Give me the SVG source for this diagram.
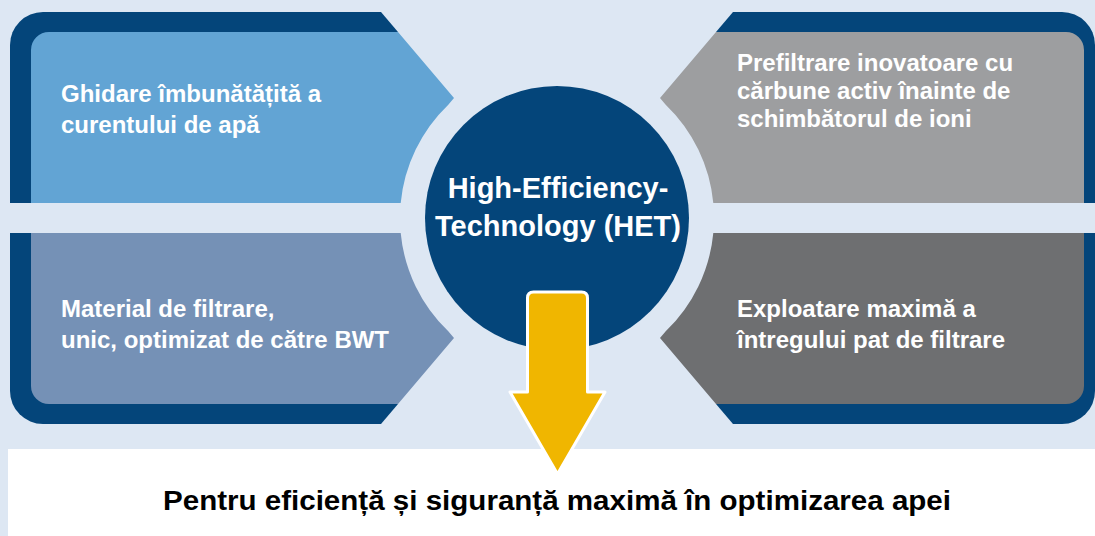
<svg xmlns="http://www.w3.org/2000/svg" width="1095" height="536" viewBox="0 0 1095 536">
<style>
.navy{fill:#04457a}
.ptxt{font-family:"Liberation Sans",Arial,sans-serif;font-weight:bold;font-size:24px;fill:#ffffff}
.ctxt{font-family:"Liberation Sans",Arial,sans-serif;font-weight:bold;font-size:29px;fill:#ffffff}
.btxt{font-family:"Liberation Sans Narrow","Liberation Sans",Arial,sans-serif;font-weight:bold;font-size:27px;fill:#000000}
</style>
<rect x="0" y="0" width="1095" height="536" fill="#dde7f3"/>
<rect x="8" y="449" width="1087" height="87" fill="#ffffff"/>

<g id="node-top-left">
<path class="navy" d="M10,203 V45 A33,33 0 0 1 43,12 H381 L398,32 V203 Z"/>
<path fill="#62a4d4" d="M31,50 A18,18 0 0 1 49,32 L398,32 L454,98 L448.3,104.7 A157,157 0 0 0 400.7,203 L31,203 Z"/>
<text class="ptxt" x="61" y="102">Ghidare îmbunătățită a</text>
<text class="ptxt" x="61" y="133">curentului de apă</text>
</g>

<g id="node-bottom-left">
<path class="navy" d="M10,233 V391 A33,33 0 0 0 43,424 H381 L398,404 V233 Z"/>
<path fill="#7591b6" d="M31,233 L400.7,233 A157,157 0 0 0 448.3,331.3 L454,338 L398,404 L49,404 A18,18 0 0 1 31,386 Z"/>
<text class="ptxt" x="61" y="317">Material de filtrare,</text>
<text class="ptxt" x="61" y="348">unic, optimizat de către BWT</text>
</g>

<g id="node-top-right">
<path class="navy" d="M1095,203 V45 A33,33 0 0 0 1062,12 H733 L716,32 V203 Z"/>
<path fill="#9d9ea0" d="M1084,50 A18,18 0 0 0 1066,32 L716,32 L660,98 L665.7,104.7 A157,157 0 0 1 713.3,203 L1084,203 Z"/>
<text class="ptxt" x="737" y="71">Prefiltrare inovatoare cu</text>
<text class="ptxt" x="737" y="99">cărbune activ înainte de</text>
<text class="ptxt" x="737" y="127">schimbătorul de ioni</text>
</g>

<g id="node-bottom-right">
<path class="navy" d="M1095,233 V391 A33,33 0 0 1 1062,424 H733 L716,404 V233 Z"/>
<path fill="#6e6f71" d="M1084,233 L713.3,233 A157,157 0 0 1 665.7,331.3 L660,338 L716,404 L1066,404 A18,18 0 0 0 1084,386 Z"/>
<text class="ptxt" x="737" y="317">Exploatare maximă a</text>
<text class="ptxt" x="737" y="348">întregului pat de filtrare</text>
</g>

<g id="node-center">
<circle class="navy" cx="557" cy="218" r="132"/>
<text class="ctxt" x="558" y="198" text-anchor="middle">High-Efficiency-</text>
<text class="ctxt" x="558" y="236" text-anchor="middle">Technology (HET)</text>
</g>

<g id="connectors">
<path fill="#f0b600" stroke="#ffffff" stroke-width="3" stroke-linejoin="round" d="M533.5,292 H581.5 Q587.5,292 587.5,298 V392 H605 L557.5,474 L510,392 H527.5 V298 Q527.5,292 533.5,292 Z"/>
</g>

<g id="node-result">
<text class="btxt" x="557" y="510" text-anchor="middle" textLength="788" lengthAdjust="spacingAndGlyphs">Pentru eficiență și siguranță maximă în optimizarea apei</text>
</g>
</svg>
